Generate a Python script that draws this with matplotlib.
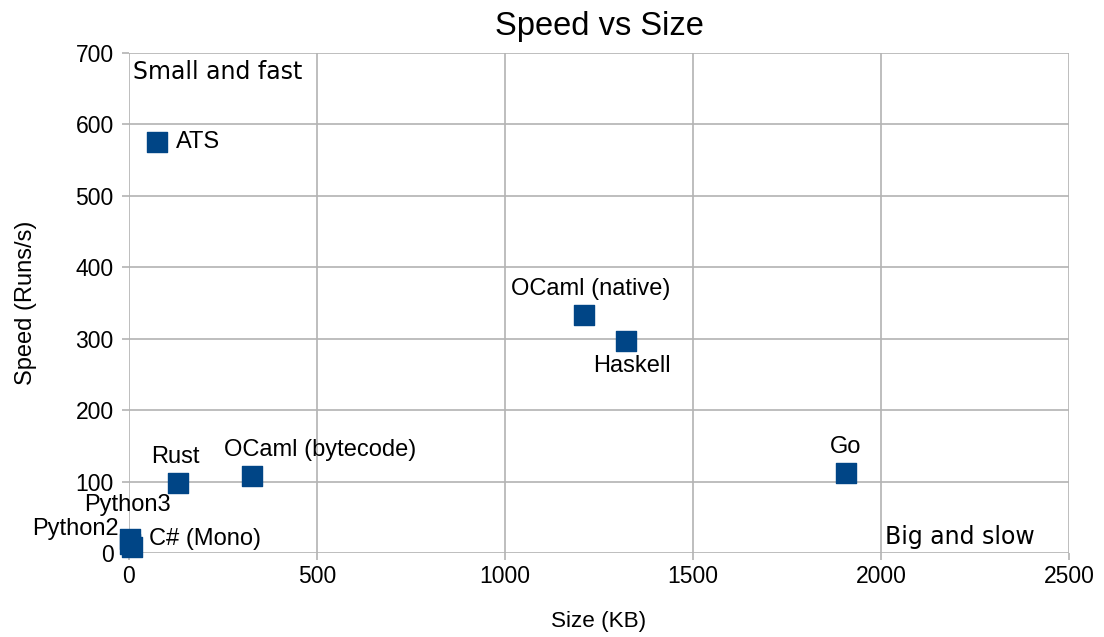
import matplotlib
matplotlib.use("Agg")
import matplotlib.pyplot as plt

# Data
names = ["ATS", "OCaml (native)", "Haskell", "Go", "Rust", "OCaml (bytecode)",
         "Python3", "Python2", "C# (Mono)"]
size_kb = [74, 1210, 1322, 1907, 130, 327, 4, 2, 8]
speed = [575, 333, 297, 112, 98, 108, 20, 12, 8]

# label offsets (points) and alignment per point
offsets = [(14, 0, "left", "center"),
           (5, 11, "center", "bottom"),
           (4, -10, "center", "top"),
           (0, 11, "center", "bottom"),
           (-2, 11, "center", "bottom"),
           (49, 11, "center", "bottom"),
           (-2, 16, "center", "bottom"),
           (-8, 11, "right", "center"),
           (12, 6, "left", "center")]

plt.rcParams['font.family'] = ['Liberation Sans', 'DejaVu Sans']

fig = plt.figure(figsize=(11.04, 6.37), dpi=100)
ax = fig.add_axes([0.1168, 0.1319, 0.8515, 0.7849])

ax.scatter(size_kb, speed, marker='s', s=200, color='#004586', zorder=3, clip_on=False)

for n, x, y, (dx, dy, ha, va) in zip(names, size_kb, speed, offsets):
    ax.annotate(n, (x, y), xytext=(dx, dy), textcoords='offset points',
                ha=ha, va=va, fontsize=17, zorder=4)

ax.set_xlim(0, 2500)
ax.set_ylim(0, 700)
ax.set_xticks(range(0, 2501, 500))
ax.set_yticks(range(0, 701, 100))
ax.grid(True, color='#b3b3b3', linewidth=1.2)
ax.set_axisbelow(True)
for s in ax.spines.values():
    s.set_visible(False)
ax.tick_params(colors='#b3b3b3', labelcolor='black', labelsize=16.5, length=5, width=1.2)
ax.tick_params(axis='y', pad=6)

ax.set_title("Speed vs Size", fontsize=23.5, pad=13)
ax.set_xlabel("Size (KB)", fontsize=16.2, labelpad=17)
ax.set_ylabel("Speed (Runs/s)", fontsize=17, labelpad=28)

ax.text(12, 690, "Small and fast", family='DejaVu Sans', fontsize=17, va='top')
ax.text(2010, 6, "Big and slow", family='DejaVu Sans', fontsize=17, va='bottom')

fig.savefig("out.png", dpi=100)
